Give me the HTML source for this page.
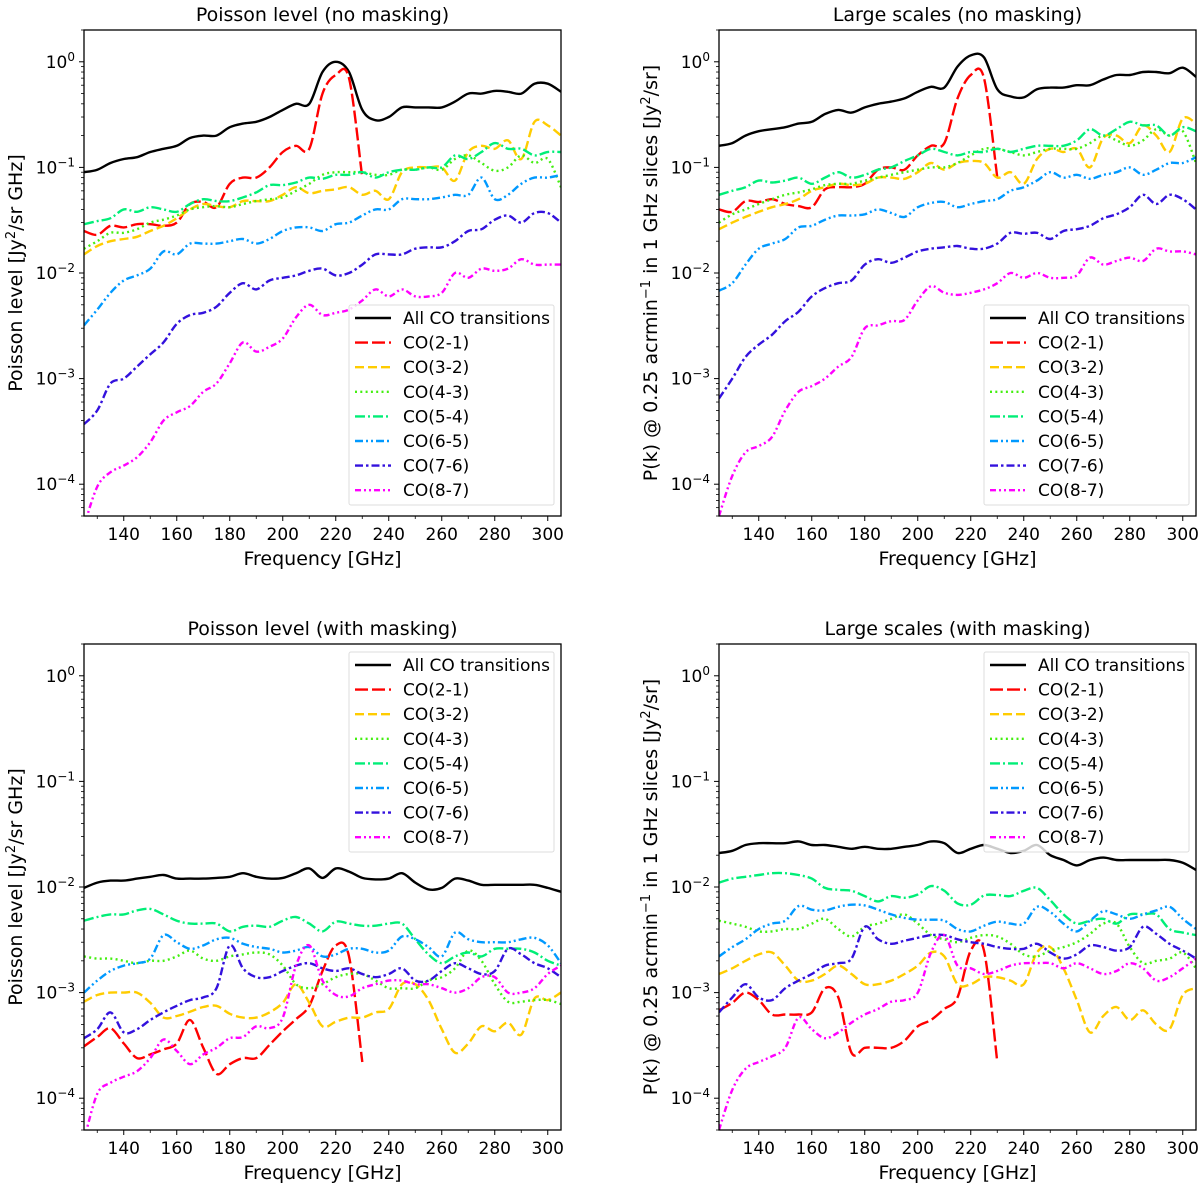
<!DOCTYPE html>
<html><head><meta charset="utf-8"><style>
body{margin:0;background:#fff}
svg{display:block;font-family:"DejaVu Sans","Liberation Sans",sans-serif}
</style></head><body>
<svg id="fig" width="1200" height="1187" viewBox="0 0 1200 1187"></svg>
<script>
const freqs=[125,130,135,140,145,150,155,160,165,170,175,180,185,190,195,200,205,210,215,220,225,230,235,240,245,250,255,260,265,270,275,280,285,290,295,300,305];
const seriesNames=["All CO transitions","CO(2-1)","CO(3-2)","CO(4-3)","CO(5-4)","CO(6-5)","CO(7-6)","CO(8-7)"];
const xTicks=[140,160,180,200,220,240,260,280,300];
const yTickExps=[0,-1,-2,-3,-4];
// Panel A: Poisson no masking
const aAll=[.09,.095,.11,.12,.125,.14,.15,.16,.19,.2,.2,.24,.26,.27,.3,.35,.4,.4,.8,1.0,.8,.35,.28,.3,.37,.37,.37,.37,.42,.5,.5,.53,.52,.5,.62,.62,.52];
const a21=[.025,.023,.028,.027,.029,.029,.028,.03,.045,.047,.042,.07,.08,.08,.1,.14,.16,.15,.5,.75,.7,.08];
const a32=[.015,.018,.02,.021,.022,.025,.028,.033,.04,.045,.043,.042,.048,.048,.048,.055,.065,.057,.06,.062,.065,.055,.06,.05,.09,.1,.1,.1,.075,.14,.16,.15,.18,.12,.27,.25,.2];
const a43=[.017,.02,.024,.024,.026,.03,.032,.035,.04,.042,.043,.042,.045,.048,.05,.052,.06,.07,.085,.09,.09,.09,.085,.085,.095,.095,.1,.095,.12,.13,.11,.093,.1,.13,.11,.12,.065];
const a54=[.029,.031,.033,.04,.038,.042,.04,.038,.045,.05,.048,.048,.052,.058,.068,.068,.072,.08,.078,.085,.085,.09,.08,.09,.095,.095,.1,.1,.13,.12,.14,.17,.15,.15,.13,.14,.14];
const a65=[.0032,.0045,.0065,.0085,.0095,.011,.016,.015,.019,.019,.019,.02,.021,.019,.021,.025,.027,.027,.025,.029,.03,.035,.04,.04,.05,.05,.05,.052,.055,.055,.08,.05,.055,.07,.08,.08,.085];
const a76=[.00037,.0005,.0009,.001,.0013,.0017,.0022,.0033,.004,.0042,.0048,.0065,.008,.007,.0085,.009,.0095,.0105,.011,.0095,.01,.012,.015,.015,.015,.017,.0175,.0175,.02,.025,.026,.032,.035,.03,.037,.037,.03];
const a87=[.00004,.000095,.00013,.00015,.00018,.00025,.0004,.00048,.00055,.00075,.0009,.0014,.0022,.0018,.002,.0024,.0038,.005,.004,.0042,.0045,.0055,.007,.006,.007,.006,.006,.0065,.01,.009,.011,.0105,.011,.0135,.012,.012,.012];
// Panel B: Large scales no masking
const bAll=[.16,.17,.2,.22,.23,.24,.26,.27,.32,.35,.33,.37,.4,.42,.45,.52,.58,.57,.9,1.15,1.1,.55,.47,.46,.55,.57,.57,.6,.6,.68,.75,.75,.8,.8,.78,.88,.72];
const b21=[.04,.038,.048,.047,.05,.045,.043,.042,.062,.065,.065,.07,.095,.1,.095,.13,.16,.17,.45,.75,.7,.08];
const b32=[.026,.03,.034,.038,.042,.045,.05,.06,.065,.07,.068,.07,.08,.08,.078,.09,.11,.095,.11,.115,.11,.08,.09,.07,.12,.15,.14,.15,.1,.19,.2,.17,.25,.2,.14,.29,.26];
const b43=[.03,.036,.04,.045,.05,.055,.058,.062,.068,.07,.07,.075,.08,.085,.09,.095,.1,.1,.11,.13,.15,.15,.14,.13,.14,.15,.15,.15,.17,.2,.18,.16,.18,.23,.2,.22,.11];
const b54=[.055,.06,.065,.075,.072,.075,.08,.07,.08,.09,.08,.085,.095,.1,.115,.13,.15,.14,.13,.14,.14,.15,.14,.15,.16,.16,.16,.18,.23,.2,.23,.27,.25,.25,.2,.24,.22];
const b65=[.0068,.008,.012,.017,.019,.021,.027,.028,.032,.035,.035,.036,.04,.037,.034,.042,.046,.047,.042,.045,.048,.05,.06,.065,.075,.09,.08,.085,.078,.085,.09,.1,.085,.095,.11,.11,.125];
const b76=[.00065,.001,.0016,.0021,.0026,.0035,.0043,.006,.0072,.008,.0085,.012,.0135,.0125,.014,.016,.017,.0175,.018,.017,.017,.019,.024,.0235,.024,.021,.025,.026,.028,.033,.036,.042,.055,.045,.055,.05,.04];
const b87=[.00005,.00012,.0002,.00023,.00028,.0005,.00075,.00085,.001,.0013,.0016,.003,.0032,.0035,.0036,.0055,.0075,.0065,.0062,.0065,.007,.008,.01,.009,.01,.009,.009,.0095,.014,.012,.013,.014,.013,.017,.016,.016,.015];
// Panel C: Poisson with masking
const cAll=[.0098,.011,.0115,.0115,.012,.0125,.013,.012,.012,.012,.0122,.0125,.0135,.0125,.012,.0122,.0135,.015,.0122,.015,.014,.0122,.0118,.012,.0135,.011,.0095,.0098,.012,.0115,.0105,.0105,.0105,.0105,.0105,.0098,.009];
const c21=[.00031,.00038,.00046,.00033,.00024,.00026,.00029,.00033,.00055,.0003,.00017,.00021,.00024,.00024,.00032,.00043,.00056,.00075,.0016,.0028,.0022,.00022];
const c32=[.00082,.00095,.001,.001,.001,.0008,.00058,.0006,.00066,.00073,.00075,.00063,.00058,.00058,.00065,.0008,.0012,.0008,.00048,.00053,.00058,.00058,.00065,.0007,.0012,.0012,.00085,.00045,.00027,.00033,.00048,.00043,.00052,.0004,.00088,.00085,.001];
const c43=[.0022,.0021,.0021,.002,.0019,.002,.002,.0022,.0025,.0021,.002,.0022,.0023,.0024,.0023,.0018,.0012,.0011,.0012,.0014,.0015,.0015,.0013,.0011,.0011,.0011,.0013,.0014,.0017,.0025,.002,.0012,.00082,.00082,.00085,.00085,.00078];
const c54=[.0048,.0052,.0055,.0055,.006,.0062,.0055,.0048,.0045,.0045,.0045,.0038,.0042,.0043,.0042,.0048,.0052,.0045,.0038,.0047,.0045,.0043,.0043,.0045,.0045,.0032,.0023,.0019,.0022,.0024,.0022,.0026,.0026,.0026,.0024,.002,.0018];
const c65=[.001,.0013,.0016,.0018,.0019,.0021,.0035,.003,.0026,.0028,.0032,.0033,.0029,.0027,.0026,.0024,.0025,.0027,.0022,.0023,.0026,.0026,.0024,.0025,.0034,.0032,.0027,.0022,.0037,.0032,.003,.003,.003,.0032,.0033,.0028,.0019];
const c76=[.00037,.00045,.00065,.00042,.00045,.00055,.00065,.00075,.00085,.0009,.0011,.0028,.0017,.0014,.0014,.0016,.0018,.0019,.0017,.0016,.0017,.0015,.0014,.0015,.0017,.0013,.0013,.0016,.0019,.0017,.0015,.0016,.0026,.0023,.0019,.0017,.0014];
const c87=[.00004,.00011,.00014,.00016,.00018,.00024,.00036,.00028,.00021,.00026,.0003,.00037,.00038,.00048,.00046,.00058,.0018,.0028,.0013,.00095,.00092,.0011,.0012,.0013,.0013,.0012,.0012,.0011,.001,.0011,.0014,.0014,.001,.001,.0011,.0015,.0018];
// Panel D: Large scales with masking
const dAll=[.021,.022,.025,.026,.026,.026,.027,.025,.025,.024,.023,.024,.023,.023,.024,.025,.027,.026,.021,.023,.025,.023,.021,.022,.025,.02,.018,.016,.018,.019,.018,.018,.018,.018,.018,.017,.0145];
const d21=[.00068,.0008,.001,.00085,.00062,.00062,.00062,.00065,.0011,.0009,.00027,.0003,.0003,.0003,.00035,.00048,.00055,.0007,.0009,.0025,.0025,.00022];
const d32=[.0015,.0017,.002,.0023,.0024,.0018,.0013,.0013,.0015,.0018,.0015,.0012,.0012,.0013,.0015,.0018,.0024,.0022,.0012,.0012,.0014,.0014,.0013,.0012,.0024,.0027,.0017,.00085,.00042,.0006,.00073,.00055,.00068,.0005,.00045,.00095,.0011];
const d43=[.0048,.0045,.0042,.0038,.0038,.004,.004,.0045,.005,.004,.0034,.0042,.0045,.005,.0055,.0045,.0035,.0032,.003,.0033,.0035,.0034,.0029,.0023,.0022,.0025,.0027,.003,.0036,.0045,.0045,.0027,.0019,.002,.0021,.0024,.0017];
const d54=[.011,.012,.0125,.013,.0135,.0135,.013,.012,.0098,.0094,.0092,.0082,.0073,.0082,.0079,.0085,.0102,.0092,.007,.0068,.0083,.0084,.0082,.0092,.0098,.0075,.0055,.0045,.0048,.005,.0045,.0055,.0055,.0055,.004,.0037,.0035];
const d65=[.0022,.0027,.0032,.004,.0045,.0048,.0066,.0061,.006,.0065,.0068,.0067,.0061,.0055,.0051,.0049,.0049,.0048,.004,.0038,.0043,.0047,.0045,.0045,.0065,.0058,.0045,.0038,.0048,.0059,.0055,.005,.0055,.006,.0065,.005,.004];
const d76=[.00065,.0009,.0012,.0009,.00085,.0011,.0013,.0015,.0018,.0019,.0021,.0042,.0032,.0029,.0031,.0033,.0035,.0035,.0032,.003,.0029,.0027,.0026,.0026,.0029,.0024,.0021,.0023,.0028,.0027,.0025,.0027,.0042,.0036,.0029,.0025,.0021];
const d87=[.00005,.00012,.00019,.00022,.00025,.0003,.00058,.00045,.00037,.00042,.00052,.00062,.0007,.00082,.00085,.001,.0024,.0035,.0018,.0017,.0015,.0016,.0018,.0019,.0019,.0019,.0017,.0019,.0017,.0015,.0016,.0019,.0017,.0013,.0014,.0017,.0021];

const colors=["#000000","#ff0000","#ffcc00","#44ee11","#00ee77","#0099ff","#3311dd","#ff00ff"];
const dashes=["","13,4","9,4","2,3.3","10,3,2,3","8,3,2,3,2,3","8,3,2.5,3","6,3,2,3,2,3"];
const NS="http://www.w3.org/2000/svg";
const svg=document.getElementById('fig');
function mk(tag,attrs,parent){const e=document.createElementNS(NS,tag);for(const k in attrs)e.setAttribute(k,attrs[k]);(parent||svg).appendChild(e);return e;}
function smooth(pts){if(pts.length<2)return "";let d="M"+pts[0][0].toFixed(1)+","+pts[0][1].toFixed(1);for(let i=0;i<pts.length-1;i++){const p0=pts[Math.max(0,i-1)],p1=pts[i],p2=pts[i+1],p3=pts[Math.min(pts.length-1,i+2)];const c1x=p1[0]+(p2[0]-p0[0])/6,c1y=p1[1]+(p2[1]-p0[1])/6,c2x=p2[0]-(p3[0]-p1[0])/6,c2y=p2[1]-(p3[1]-p1[1])/6;d+="C"+c1x.toFixed(1)+","+c1y.toFixed(1)+" "+c2x.toFixed(1)+","+c2y.toFixed(1)+" "+p2[0].toFixed(1)+","+p2[1].toFixed(1);}return d;}

const panels=[
 {id:"a",title:"Poisson level (no masking)",L:84,R:561,T:30,B:516,ylab:"poisson",legTop:305,series:[aAll,a21,a32,a43,a54,a65,a76,a87]},
 {id:"b",title:"Large scales (no masking)",L:719,R:1196,T:30,B:516,ylab:"pk",legTop:305,series:[bAll,b21,b32,b43,b54,b65,b76,b87]},
 {id:"c",title:"Poisson level (with masking)",L:84,R:561,T:644,B:1130,ylab:"poisson",legTop:652,series:[cAll,c21,c32,c43,c54,c65,c76,c87]},
 {id:"d",title:"Large scales (with masking)",L:719,R:1196,T:644,B:1130,ylab:"pk",legTop:652,series:[dAll,d21,d32,d43,d54,d65,d76,d87]}
];
const XMIN=125,XMAX=305,LYMIN=Math.log10(5e-5),LYMAX=Math.log10(2);
panels.forEach(p=>{
  const g=mk('g',{});
  
  
  const xs=v=>p.L+(v-XMIN)/(XMAX-XMIN)*(p.R-p.L);
  const ys=v=>p.B-(Math.log10(v)-LYMIN)/(LYMAX-LYMIN)*(p.B-p.T);
  const cp=mk('clipPath',{id:'clip'+p.id},g);
  mk('rect',{x:p.L,y:p.T,width:p.R-p.L,height:p.B-p.T},cp);
  const t=mk('text',{x:(p.L+p.R)/2,y:p.T-9,'text-anchor':'middle','font-size':19},g);
  t.textContent=p.title;
  
  
  xTicks.forEach(v=>{const x=xs(v);mk('line',{x1:x,x2:x,y1:p.B,y2:p.B+5,stroke:'#000','stroke-width':1},g);
    const tl=mk('text',{x:x,y:p.B+24,'text-anchor':'middle','font-size':17},g);tl.textContent=v;
    
    });
  for(let v=130;v<=300;v+=10){if(v%20===0)continue;const x=xs(v);mk('line',{x1:x,x2:x,y1:p.B,y2:p.B+3,stroke:'#000','stroke-width':0.8},g);}
  const xl=mk('text',{x:(p.L+p.R)/2,y:p.B+49,'text-anchor':'middle','font-size':19},g);xl.textContent="Frequency [GHz]";
  
  
  yTickExps.forEach(e=>{const y=ys(Math.pow(10,e));mk('line',{x1:p.L-5,x2:p.L,y1:y,y2:y,stroke:'#000','stroke-width':1},g);
    const tl=mk('text',{x:p.L-9,y:y+6,'text-anchor':'end','font-size':17},g);
    tl.appendChild(document.createTextNode('10'));
    const s=mk('tspan',{dy:-7,'font-size':12},tl);s.textContent=(e<0?'\u2212':'')+Math.abs(e);
    
    
    for(let m=2;m<=9;m++){const v=m*Math.pow(10,e-1);if(v<5e-5)continue;const yy=ys(v);mk('line',{x1:p.L-3,x2:p.L,y1:yy,y2:yy,stroke:'#000','stroke-width':0.8},g);}
  });
  {const yy=ys(2);mk('line',{x1:p.L-3,x2:p.L,y1:yy,y2:yy,stroke:'#000','stroke-width':0.8},g);}
  const yx=p.L<300?15:650, yc=(p.T+p.B)/2;
  const yl=mk('text',{x:yx,y:yc,'text-anchor':'middle','font-size':19,transform:`rotate(-90 ${yx} ${yc})`,dy:7},g);
  if(p.ylab==="poisson"){yl.appendChild(document.createTextNode('Poisson level [Jy'));const s=mk('tspan',{dy:-7,'font-size':13},yl);s.textContent='2';const r=mk('tspan',{dy:7},yl);r.textContent='/sr GHz]';}
  else{yl.appendChild(document.createTextNode('P(k) @ 0.25 acrmin'));const s=mk('tspan',{dy:-7,'font-size':13},yl);s.textContent='\u22121';const r=mk('tspan',{dy:7},yl);r.textContent=' in 1 GHz slices [Jy';const s2=mk('tspan',{dy:-7,'font-size':13},yl);s2.textContent='2';const r2=mk('tspan',{dy:7},yl);r2.textContent='/sr]';}
  
  
  const sg=mk('g',{'clip-path':`url(#clip${p.id})`},g);
  p.series.forEach((arr,i)=>{
    const pts=arr.map((v,j)=>[xs(freqs[j]),ys(v)]);
    const path=mk('path',{d:smooth(pts),fill:'none',stroke:colors[i],'stroke-width':2.4,'stroke-dasharray':dashes[i],'stroke-linejoin':'round'},sg);
    
    
  });
  mk('rect',{x:p.L,y:p.T,width:p.R-p.L,height:p.B-p.T,fill:'none',stroke:'#000','stroke-width':1.3},g);
  const lg=mk('g',{},g);
  
  
  const lx=p.R-212, ly=p.legTop;
  mk('rect',{x:lx,y:ly,width:205,height:200,fill:'#fff','fill-opacity':0.8,stroke:'#ddd','stroke-width':1,rx:2},lg);
  seriesNames.forEach((n,i)=>{const y=ly+13+i*24.6;
    const e=mk('g',{},lg);
    
    
    mk('line',{x1:lx+6,x2:lx+42,y1:y,y2:y,stroke:colors[i],'stroke-width':2.4,'stroke-dasharray':dashes[i]},e);
    const tt=mk('text',{x:lx+54,y:y+6,'font-size':17},e);tt.textContent=n;});
});
</script>
</body></html>
